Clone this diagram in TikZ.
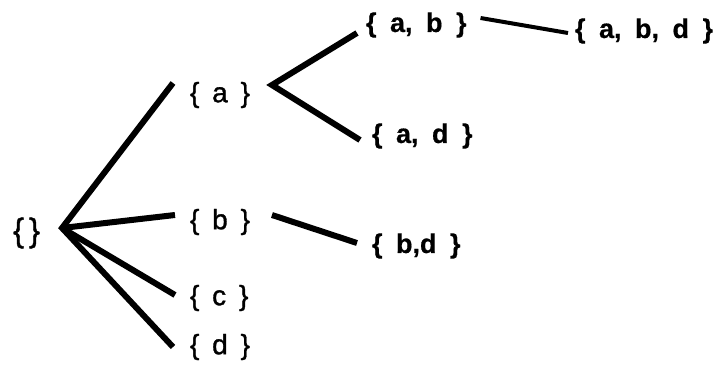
\documentclass[tikz,border=0pt]{standalone}
\usepackage{fontspec}
\setmainfont{Liberation Sans}
\newfontfamily\levelone[WordSpace=1.65,FakeBold=1.2]{Liberation Sans}
\newfontfamily\leveltwo[WordSpace=1.8,BoldFeatures={FakeBold=0.6}]{Liberation Sans}
\usepackage{tikz}
\usetikzlibrary{calc}
\definecolor{myink}{RGB}{0,0,0}
\tikzset{
  setnode/.style={anchor=west, inner xsep=0pt, inner ysep=0pt, outer sep=0pt,
    text=myink, font=\levelone\fontsize{28}{30}\selectfont},
  bigset/.style={setnode, font=\leveltwo\fontsize{27}{30}\selectfont\bfseries},
  emptyset/.style={setnode, font=\levelone\fontsize{33}{36}\selectfont},
  edge/.style={draw=myink, line width=6pt}
}

\begin{document}
\begin{tikzpicture}[x=1pt, y=1pt]
  \useasboundingbox (0,0) rectangle (726,367);

  % Nodes
  \node[emptyset] (root) at (13,134) {\{\kern5pt\}};

  \node[setnode] (a) at (190,272) {\{ a \}};
  \node[setnode] (b) at (190,145) {\{ b \}};
  \node[setnode] (c) at (190,69) {\{ c \}};
  \node[setnode] (d) at (190,20) {\{ d \}};

  \node[bigset] (ab) at (366,342) {\{ a, b \}};
  \node[bigset] (ad) at (372,231) {\{ a, d \}};
  \node[bigset] (bd) at (372,121) {\{ b,d \}};

  \node[bigset] (abd) at (575,336) {\{ a, b, d \}};

  % Connections
  \draw[edge] ($(a.west)+(-17,12)$) -- ($(root.east)+(22,5)$) -- ($(d.west)+(-17,0)$);
  \draw[edge] ($(root.east)+(22,5)$) -- ($(b.west)+(-15,7)$);
  \draw[edge] ($(root.east)+(22,5)$) -- ($(c.west)+(-15,3)$);

  % fork out of {a}
  \draw[edge] ($(ab.west)+(-9,-8)$) -- ($(a.east)+(22,10)$) -- ($(ad.west)+(-12,-4)$);

  \draw[edge] ($(b.east)+(22,7)$) -- ($(bd.west)+(-15,3)$);
  \draw[edge, line width=4pt] ($(ab.east)+(14,7)$) -- ($(abd.west)+(-7,-2)$);
\end{tikzpicture}
\end{document}
